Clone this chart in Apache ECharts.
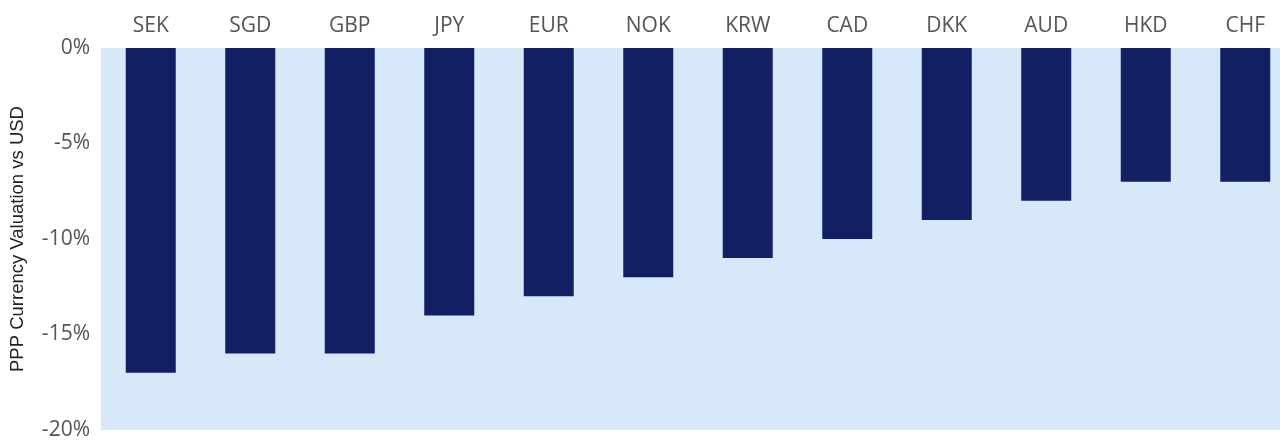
<!DOCTYPE html>
<html>
<head>
<meta charset="utf-8">
<script src="https://cdn.jsdelivr.net/npm/echarts@6/dist/echarts.min.js"></script>
<style>
  html, body { margin: 0; padding: 0; background: #fff; }
  #chart { width: 1280px; height: 441px; }
</style>
</head>
<body>
<div id="chart"></div>
<script>
// currencies, left to right
const currencies = ['SEK', 'SGD', 'GBP', 'JPY', 'EUR', 'NOK', 'KRW', 'CAD', 'DKK', 'AUD', 'HKD', 'CHF'];
// PPP valuation vs USD, in %
const valuation = [-17, -16, -16, -14, -13, -12, -11, -10, -9, -8, -7, -7];
const yTicks = { min: -20, max: 0, step: 5 };

let myChart = echarts.init(document.getElementById('chart'));

let option = {
  animation: false,
  grid: {
    left: 101,
    right: -15,
    top: 48,
    bottom: 11,
    outerBoundsMode: 'none',
    containLabel: false,
    show: true,
    backgroundColor: '#d7e8f8',
    borderWidth: 0
  },
  xAxis: {
    type: 'category',
    position: 'top',
    data: currencies,
    axisLine: { show: false },
    axisTick: { show: false },
    axisLabel: {
      color: '#555',
      fontFamily: 'Open Sans',
      fontSize: 21,
      margin: 11
    }
  },
  yAxis: {
    type: 'value',
    min: yTicks.min,
    max: yTicks.max,
    interval: yTicks.step,
    name: 'PPP Currency Valuation vs USD',
    nameLocation: 'middle',
    nameRotate: 90,
    nameGap: 74,
    nameTextStyle: {
      color: '#222',
      fontFamily: 'Liberation Sans',
      fontSize: 18.5
    },
    axisLine: { show: false },
    axisTick: { show: false },
    splitLine: { show: false },
    axisLabel: {
      color: '#555',
      fontFamily: 'Open Sans',
      fontSize: 21,
      margin: 11,
      formatter: '{value}%'
    }
  },
  series: [{
    type: 'bar',
    data: valuation,
    barWidth: 50,
    itemStyle: { color: '#131f63' }
  }]
};

myChart.setOption(option);
</script>
</body>
</html>
